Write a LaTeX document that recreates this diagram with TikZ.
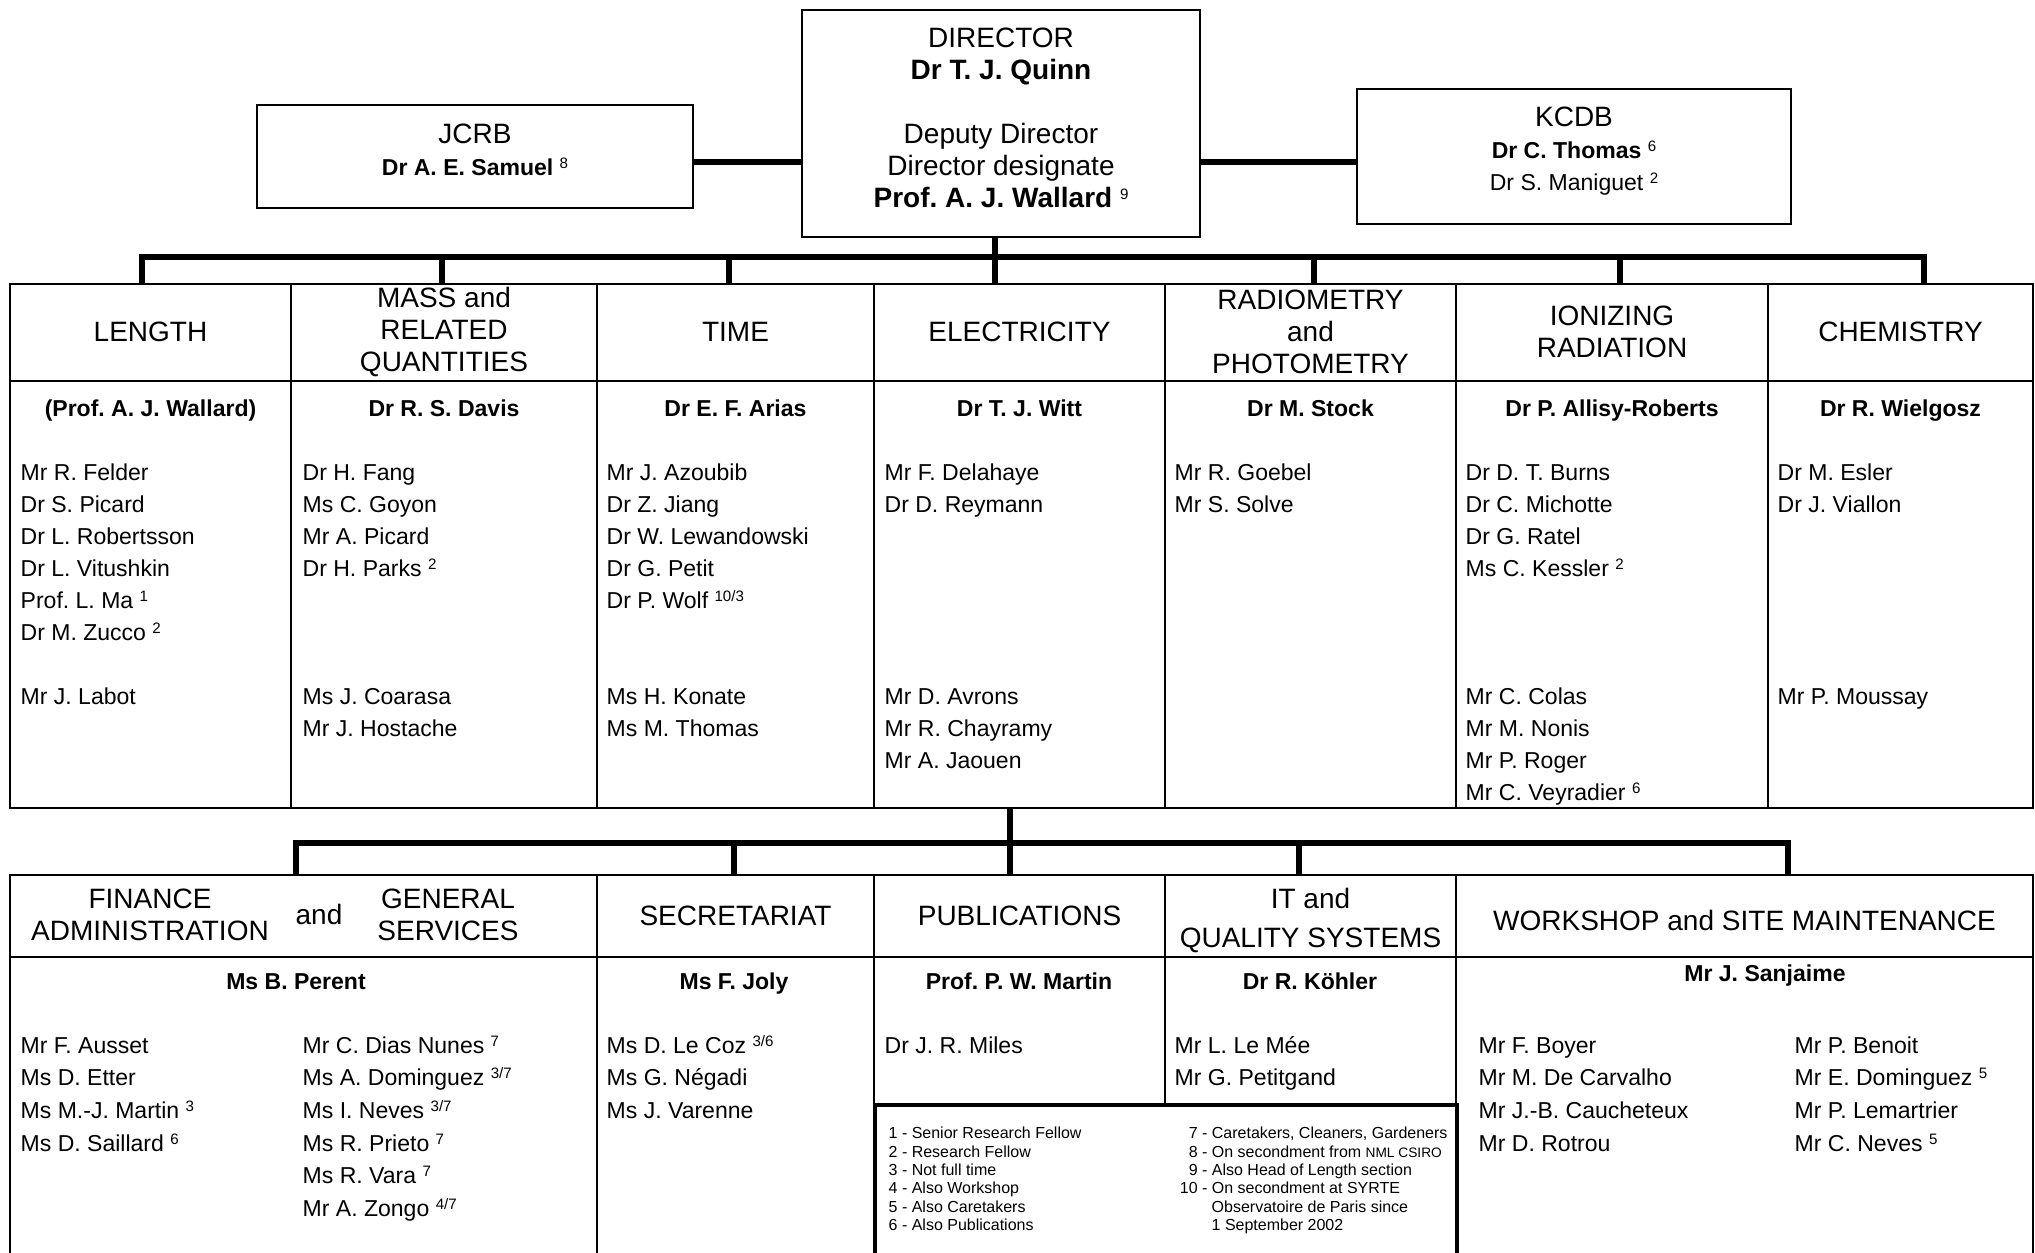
\documentclass[tikz,border=0pt]{standalone}
\usepackage{fontspec}
\setmainfont{Liberation Sans}

\newcommand\headfont{\fontsize{7.97pt}{9.1pt}\selectfont}
\newcommand\namefont{\fontsize{6.55pt}{9.1pt}\selectfont}
\newcommand\legfont{\fontsize{4.55pt}{5.2pt}\selectfont}
\newcommand\fnote[1]{\raisebox{.3em}{\fontsize{4.3pt}{5pt}\selectfont #1}}
\newcommand\dpad[1]{\rule[-#1]{0pt}{0pt}}

% Sektionen: Name/Mitte/Breite/Abzweig/Titel/Leiter
\def\sections{
  Len/150.5/281/142/{LENGTH}/{(Prof. A. J. Wallard)},
  Mass/444/306/442/{MASS and\\RELATED\\QUANTITIES}/{Dr R. S. Davis},
  Time/735.5/277/729/{TIME}/{Dr E. F. Arias},
  Elec/1019.5/291/995/{ELECTRICITY}/{Dr T. J. Witt},
  Rad/1310.5/291/1314/{RADIOMETRY\\and\\PHOTOMETRY}/{Dr M. Stock},
  Ion/1612/312/1620/{IONIZING\\RADIATION}/{Dr P. Allisy-Roberts},
  Chem/1900.5/265/1924/{CHEMISTRY}/{Dr R. Wielgosz}%
}
\def\staffTop{
  20/0/{Mr R. Felder,Dr S. Picard,Dr L. Robertsson,Dr L. Vitushkin,Prof. L. Ma \fnote{1},Dr M. Zucco \fnote{2}},
  20/7/{Mr J. Labot},
  302/0/{Dr H. Fang,Ms C. Goyon,Mr A. Picard,Dr H. Parks \fnote{2}},
  302/7/{Ms J. Coarasa,Mr J. Hostache},
  606/0/{Mr J. Azoubib,Dr Z. Jiang,Dr W. Lewandowski,Dr G. Petit,Dr P. Wolf \fnote{10/3}},
  606/7/{Ms H. Konate,Ms M. Thomas},
  884/0/{Mr F. Delahaye,Dr D. Reymann},
  884/7/{Mr D. Avrons,Mr R. Chayramy,Mr A. Jaouen},
  1174/0/{Mr R. Goebel,Mr S. Solve},
  1465/0/{Dr D. T. Burns,Dr C. Michotte,Dr G. Ratel,Ms C. Kessler \fnote{2}},
  1465/7/{Mr C. Colas,Mr M. Nonis,Mr P. Roger,Mr C. Veyradier \fnote{6}},
  1777/0/{Dr M. Esler,Dr J. Viallon},
  1777/7/{Mr P. Moussay}%
}
% Dienste: Name/Mitte/Breite/Abzweig/Titel/Leiter-x/Leiter-y/Hoehe/Leiter
\def\services{
  Fin/303.5/587/296/{}/296/981/344/{Ms B. Perent},
  Sec/735.5/277/734/{SECRETARIAT}/734/981/344/{Ms F. Joly},
  Pub/1019.5/291/1010/{PUBLICATIONS}/1019/981/147/{Prof. P. W. Martin},
  IT/1310.5/291/1299/{\rule{0pt}{2.9mm}IT and\\[2pt]QUALITY SYSTEMS}/1310/981/147/{Dr R. Köhler},
  Ws/1744.5/577/1788/{\rule{0pt}{2.9mm}WORKSHOP and SITE MAINTENANCE}/1765/973/344/{Mr J. Sanjaime}%
}
\def\staffBot{
  20/{Mr F. Ausset,Ms D. Etter,Ms M.-J. Martin \fnote{3},Ms D. Saillard \fnote{6}},
  302/{Mr C. Dias Nunes \fnote{7},Ms A. Dominguez \fnote{3/7},Ms I. Neves \fnote{3/7},Ms R. Prieto \fnote{7},Ms R. Vara \fnote{7},Mr A. Zongo \fnote{4/7}},
  606/{Ms D. Le Coz \fnote{3/6},Ms G. Négadi,Ms J. Varenne},
  884/{Dr J. R. Miles},
  1174/{Mr L. Le Mée,Mr G. Petitgand},
  1478/{Mr F. Boyer,Mr M. De Carvalho,Mr J.-B. Caucheteux,Mr D. Rotrou},
  1794/{Mr P. Benoit,Mr E. Dominguez \fnote{5},Mr P. Lemartrier,Mr C. Neves \fnote{5}}%
}
\def\legendA{1 - Senior Research Fellow,2 - Research Fellow,3 - Not full time,4 - Also Workshop,5 - Also Caretakers,6 - Also Publications}
\def\legendB{
  1197/{\llap{7} - Caretakers, Cleaners, Gardeners},
  1197/{\llap{8} - On secondment from {\fontsize{3.9pt}{5pt}\selectfont NML CSIRO}},
  1197/{\llap{9} - Also Head of Length section},
  1197/{\llap{10} - On secondment at SYRTE},
  1211/{Observatoire de Paris since},
  1211/{1 September 2002}%
}

\begin{document}
\frenchspacing
\begin{tikzpicture}[x=0.1mm,y=-0.1mm,
  orgbox/.style={draw,line width=.7pt,align=center,inner sep=0pt},
  cellbox/.style={draw,line width=.45pt,align=center,inner sep=0pt,font=\headfont},
  leader/.style={inner sep=0pt,font=\namefont\bfseries,text height=1.65mm,text depth=0pt},
  staffname/.style={anchor=west,inner sep=0pt,font=\namefont,text height=1.65mm,text depth=0pt},
  legtxt/.style={anchor=west,inner sep=0pt,font=\legfont,text height=1.15mm,text depth=0pt},
  bus/.style={line width=1.5pt},
  legbox/.style={draw,line width=1.1pt}]

\useasboundingbox (0,0) rectangle (2035,1253);
\clip (0,0) rectangle (2035,1253);

% Direktion
\node[orgbox,font=\headfont,minimum width=39.8mm,minimum height=22.7mm] (dir) at (1001,123.5)
  {DIRECTOR\\\textbf{Dr T. J. Quinn}\\[9.1pt]Deputy Director\\Director designate\\\textbf{Prof. A. J. Wallard} \fnote{9}\dpad{1.1mm}};
\node[orgbox,font=\namefont,minimum width=43.6mm,minimum height=10.3mm] (jcrb) at (475,156.5)
  {{\headfont JCRB}\\\textbf{Dr A. E. Samuel} \fnote{8}\dpad{1.3mm}};
\node[orgbox,font=\namefont,minimum width=43.4mm,minimum height=13.5mm] (kcdb) at (1574,156.5)
  {{\headfont KCDB}\\\textbf{Dr C. Thomas} \fnote{6}\\Dr S. Maniguet \fnote{2}\dpad{1.6mm}};

\coordinate (lvl) at (0,162);
\draw[bus] (jcrb.east |- lvl) -- (dir.west |- lvl);
\draw[bus] (dir.east |- lvl) -- (kcdb.west |- lvl);

% Sektionen
\foreach \nm/\xc/\w/\xd/\ttl/\lname in \sections {
  \node[cellbox,anchor=north,minimum width=\w*0.1mm,minimum height=9.7mm] (h\nm) at (\xc,283) {\ttl};
  \node[cellbox,anchor=north,minimum width=\w*0.1mm,minimum height=42.7mm] (b\nm) at (\xc,380) {};
  \node[leader] (l\nm) at (\xc,408) {\lname};
  \coordinate (d\nm) at (\xd,257);
  \draw[bus] (d\nm) -- (d\nm |- h\nm.north);
}
\draw[bus] (hLen.north -| dLen) |- (dChem) -- (hChem.north -| dChem);
\draw[bus] (dir.south -| dElec) -- (dElec);

\foreach \x/\row/\liste in \staffTop {
  \foreach \p [count=\i from \row] in \liste {
    \node[staffname] (s\x-\i) at (\x,472+32*\i) {\p};
  }
}

% Dienste
\foreach \nm/\xc/\w/\xd/\ttl/\lx/\ly/\bh/\lname in \services {
  \node[cellbox,anchor=north,minimum width=\w*0.1mm,minimum height=8.2mm] (h\nm) at (\xc,874) {\ttl};
  \node[cellbox,anchor=north,minimum width=\w*0.1mm,minimum height=\bh*0.1mm] (b\nm) at (\xc,956) {};
  \node[leader] (l\nm) at (\lx,\ly) {\lname};
  \coordinate (e\nm) at (\xd,843);
  \draw[bus] (e\nm) -- (e\nm |- h\nm.north);
}
\draw[bus] (hFin.north -| eFin) |- (eWs) -- (hWs.north -| eWs);
\draw[bus] (bElec.south -| ePub) -- (ePub);

\node[font=\headfont,align=center] (tFin) at (150,915) {FINANCE\\ADMINISTRATION};
\node[font=\headfont] (tAnd) at (319,915) {and};
\node[font=\headfont,align=center] (tGen) at (448,915) {GENERAL\\SERVICES};

\foreach \x/\liste in \staffBot {
  \foreach \p [count=\i from 0] in \liste {
    \node[staffname] (t\x-\i) at (\x,1045+32.6*\i) {\p};
  }
}

% Legende
\node[legbox,anchor=north west,minimum width=58.2mm,minimum height=20mm] (leg) at (873,1103) {};
\foreach \ltext [count=\i from 0] in \legendA {
  \node[legtxt] (la\i) at (888,1133+18.4*\i) {\ltext};
}
\foreach \x/\ltext [count=\i from 0] in \legendB {
  \node[legtxt] (lb\i) at (\x,1133+18.4*\i) {\ltext};
}

\end{tikzpicture}
\end{document}
